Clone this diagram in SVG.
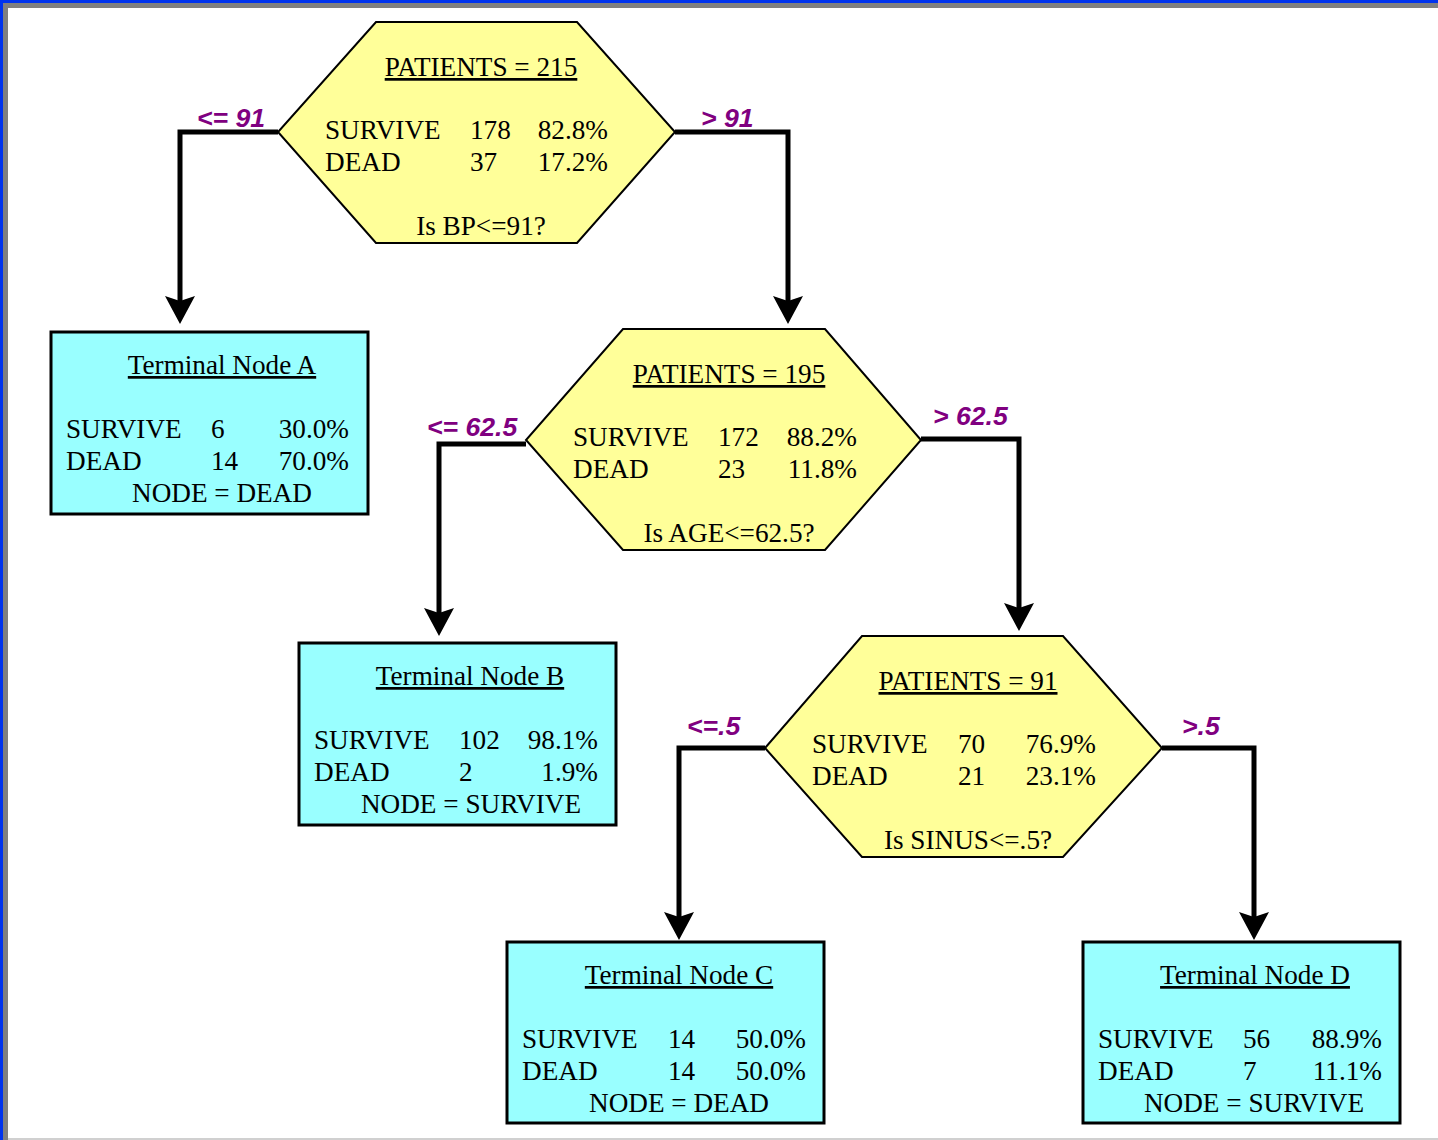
<svg xmlns="http://www.w3.org/2000/svg" width="1438" height="1140" viewBox="0 0 1438 1140">
<style>
.t{font-family:"Liberation Serif","Times New Roman",serif;font-size:27.2px;fill:#000}
.c{text-anchor:middle}
.r{text-anchor:end}
.u{text-decoration:underline}
.lbl{font-family:"Liberation Sans",Arial,sans-serif;font-size:26.6px;font-weight:bold;font-style:italic;fill:#800080}
.hex{fill:#FFFF99;stroke:#000;stroke-width:2}
.box{fill:#99FFFF;stroke:#000;stroke-width:3}
.conn{fill:none;stroke:#000;stroke-width:5;stroke-linejoin:miter;marker-end:url(#arr)}
</style>
<defs>
<marker id="arr" viewBox="-15 -16 30 32" refX="0" refY="0" markerWidth="30" markerHeight="32" markerUnits="userSpaceOnUse" orient="auto">
<path d="M14,0 L-14,-15 L-9,0 L-14,15 Z" fill="#000"/>
</marker>
</defs>
<rect x="0" y="0" width="1438" height="1140" fill="#fff"/>
<rect x="0" y="0" width="1438" height="3" fill="#0033EE"/>
<rect x="0" y="0" width="3" height="1140" fill="#0033EE"/>
<rect x="3" y="3" width="1435" height="5" fill="#808080"/>
<rect x="3" y="3" width="5" height="1137" fill="#808080"/>
<rect x="8" y="1138" width="1430" height="2" fill="#d0d0d0"/>

<g id="connectors">
<path class="conn" d="M278,132 H180 V310"/>
<path class="conn" d="M675,132 H788 V310"/>
<path class="conn" d="M526,444 H439 V622"/>
<path class="conn" d="M921,439 H1019 V617"/>
<path class="conn" d="M765,748 H679 V926"/>
<path class="conn" d="M1162,748 H1254 V926"/>
<text class="lbl" x="197" y="127">&lt;= 91</text>
<text class="lbl" x="701" y="127">&gt; 91</text>
<text class="lbl" x="427" y="436">&lt;= 62.5</text>
<text class="lbl" x="933" y="425">&gt; 62.5</text>
<text class="lbl" x="687" y="735">&lt;=.5</text>
<text class="lbl" x="1182" y="735">&gt;.5</text>
</g>

<g id="node-root">
<polygon class="hex" points="376,22 577,22 675,132 577,243 376,243 278,132"/>
<text class="t c u" x="481" y="76">PATIENTS = 215</text>
<text class="t" x="325" y="139">SURVIVE</text>
<text class="t" x="470" y="139">178</text>
<text class="t r" x="608" y="139">82.8%</text>
<text class="t" x="325" y="171">DEAD</text>
<text class="t" x="470" y="171">37</text>
<text class="t r" x="608" y="171">17.2%</text>
<text class="t c" x="481" y="235">Is BP&lt;=91?</text>
</g>

<g id="node-age">
<polygon class="hex" points="623,329 825,329 921,440 825,550 623,550 526,440"/>
<text class="t c u" x="729" y="383">PATIENTS = 195</text>
<text class="t" x="573" y="446">SURVIVE</text>
<text class="t" x="718" y="446">172</text>
<text class="t r" x="857" y="446">88.2%</text>
<text class="t" x="573" y="478">DEAD</text>
<text class="t" x="718" y="478">23</text>
<text class="t r" x="857" y="478">11.8%</text>
<text class="t c" x="729" y="542">Is AGE&lt;=62.5?</text>
</g>

<g id="node-sinus">
<polygon class="hex" points="862,636 1063,636 1162,748 1063,857 862,857 765,748"/>
<text class="t c u" x="968" y="690">PATIENTS = 91</text>
<text class="t" x="812" y="753">SURVIVE</text>
<text class="t" x="958" y="753">70</text>
<text class="t r" x="1096" y="753">76.9%</text>
<text class="t" x="812" y="785">DEAD</text>
<text class="t" x="958" y="785">21</text>
<text class="t r" x="1096" y="785">23.1%</text>
<text class="t c" x="968" y="849">Is SINUS&lt;=.5?</text>
</g>

<g id="node-A">
<rect class="box" x="51" y="332" width="317" height="182"/>
<text class="t c u" x="222" y="374">Terminal Node A</text>
<text class="t" x="66" y="438">SURVIVE</text>
<text class="t" x="211" y="438">6</text>
<text class="t r" x="349" y="438">30.0%</text>
<text class="t" x="66" y="470">DEAD</text>
<text class="t" x="211" y="470">14</text>
<text class="t r" x="349" y="470">70.0%</text>
<text class="t c" x="222" y="502">NODE = DEAD</text>
</g>

<g id="node-B">
<rect class="box" x="299" y="643" width="317" height="182"/>
<text class="t c u" x="470" y="685">Terminal Node B</text>
<text class="t" x="314" y="749">SURVIVE</text>
<text class="t" x="459" y="749">102</text>
<text class="t r" x="598" y="749">98.1%</text>
<text class="t" x="314" y="781">DEAD</text>
<text class="t" x="459" y="781">2</text>
<text class="t r" x="598" y="781">1.9%</text>
<text class="t c" x="471" y="813">NODE = SURVIVE</text>
</g>

<g id="node-C">
<rect class="box" x="507" y="942" width="317" height="181"/>
<text class="t c u" x="679" y="984">Terminal Node C</text>
<text class="t" x="522" y="1048">SURVIVE</text>
<text class="t" x="668" y="1048">14</text>
<text class="t r" x="806" y="1048">50.0%</text>
<text class="t" x="522" y="1080">DEAD</text>
<text class="t" x="668" y="1080">14</text>
<text class="t r" x="806" y="1080">50.0%</text>
<text class="t c" x="679" y="1112">NODE = DEAD</text>
</g>

<g id="node-D">
<rect class="box" x="1083" y="942" width="317" height="181"/>
<text class="t c u" x="1255" y="984">Terminal Node D</text>
<text class="t" x="1098" y="1048">SURVIVE</text>
<text class="t" x="1243" y="1048">56</text>
<text class="t r" x="1382" y="1048">88.9%</text>
<text class="t" x="1098" y="1080">DEAD</text>
<text class="t" x="1243" y="1080">7</text>
<text class="t r" x="1382" y="1080">11.1%</text>
<text class="t c" x="1254" y="1112">NODE = SURVIVE</text>
</g>
</svg>
